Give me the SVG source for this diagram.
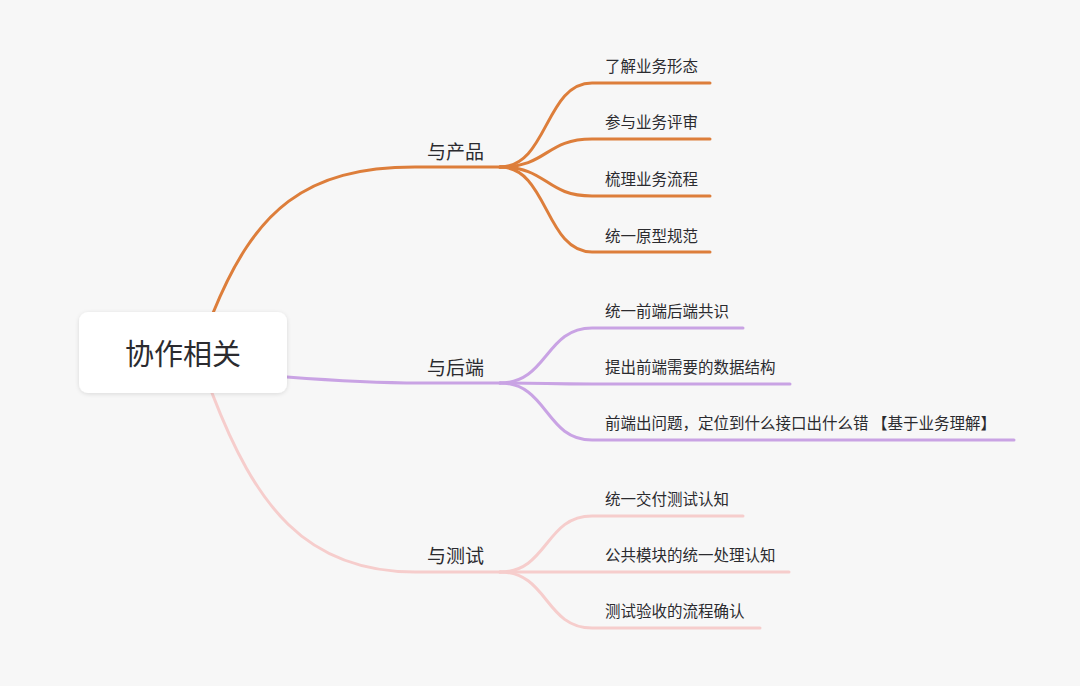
<svg xmlns="http://www.w3.org/2000/svg" width="1080" height="686" viewBox="0 0 1080 686">
<defs>
<filter id="sh" x="-20%" y="-30%" width="140%" height="160%">
<feDropShadow dx="0" dy="1" stdDeviation="2" flood-color="#000" flood-opacity="0.12"/>
</filter>
<style>
.t{font-family:"Noto Sans CJK SC","Noto Sans",sans-serif;fill:#2b2b2f}
.root{font-size:29px}
.b{font-size:19px}
.c{font-size:15.5px}
.o{stroke:#DD7E3B}
.p{stroke:#C9A3E4}
.k{stroke:#F6CDCC}
path{fill:none;stroke-width:3;stroke-linecap:round}
</style>
</defs>
<rect width="1080" height="686" fill="#F7F7F7"/>
<g id="connectors">
<path class="o" d="M213,313 C255,210 305,167 415,167 L500,167"/>
<path class="o" d="M500,167 C548,167 545,83 592,83 L710,83"/>
<path class="o" d="M500,167 C548,167 545,139 592,139 L710,139"/>
<path class="o" d="M500,167 C548,167 545,196 592,196 L710,196"/>
<path class="o" d="M500,167 C548,167 545,252 592,252 L710,252"/>
<path class="p" d="M287,377 C340,381 380,383 420,383 L500,383"/>
<path class="p" d="M500,383 C548,383 545,328 592,328 L743,328"/>
<path class="p" d="M500,383 C548,383 545,384 592,384 L790,384"/>
<path class="p" d="M500,383 C548,383 545,440 592,440 L1014,440"/>
<path class="k" d="M212,393 C255,505 305,572 415,572 L500,572"/>
<path class="k" d="M500,572 C548,572 545,516 592,516 L743,516"/>
<path class="k" d="M500,572 C548,572 545,572 592,572 L789,572"/>
<path class="k" d="M500,572 C548,572 545,628 592,628 L760,628"/>
</g>
<g id="root">
<rect x="79" y="312" width="208" height="81" rx="9" fill="#fff" filter="url(#sh)"/>
<text class="t root" x="183" y="365" text-anchor="middle">协作相关</text>
</g>
<g id="product"><text class="t b" x="427" y="159">与产品</text></g>
<g id="p1"><text class="t c" x="605" y="72">了解业务形态</text></g>
<g id="p2"><text class="t c" x="605" y="128">参与业务评审</text></g>
<g id="p3"><text class="t c" x="605" y="185">梳理业务流程</text></g>
<g id="p4"><text class="t c" x="605" y="242">统一原型规范</text></g>
<g id="backend"><text class="t b" x="427" y="375">与后端</text></g>
<g id="b1"><text class="t c" x="605" y="317">统一前端后端共识</text></g>
<g id="b2"><text class="t c" x="605" y="373">提出前端需要的数据结构</text></g>
<g id="b3"><text class="t c" x="605" y="429">前端出问题，定位到什么接口出什么错 【基于业务理解】</text></g>
<g id="test"><text class="t b" x="427" y="563">与测试</text></g>
<g id="t1"><text class="t c" x="605" y="505">统一交付测试认知</text></g>
<g id="t2"><text class="t c" x="605" y="561">公共模块的统一处理认知</text></g>
<g id="t3"><text class="t c" x="605" y="617">测试验收的流程确认</text></g>
</svg>
